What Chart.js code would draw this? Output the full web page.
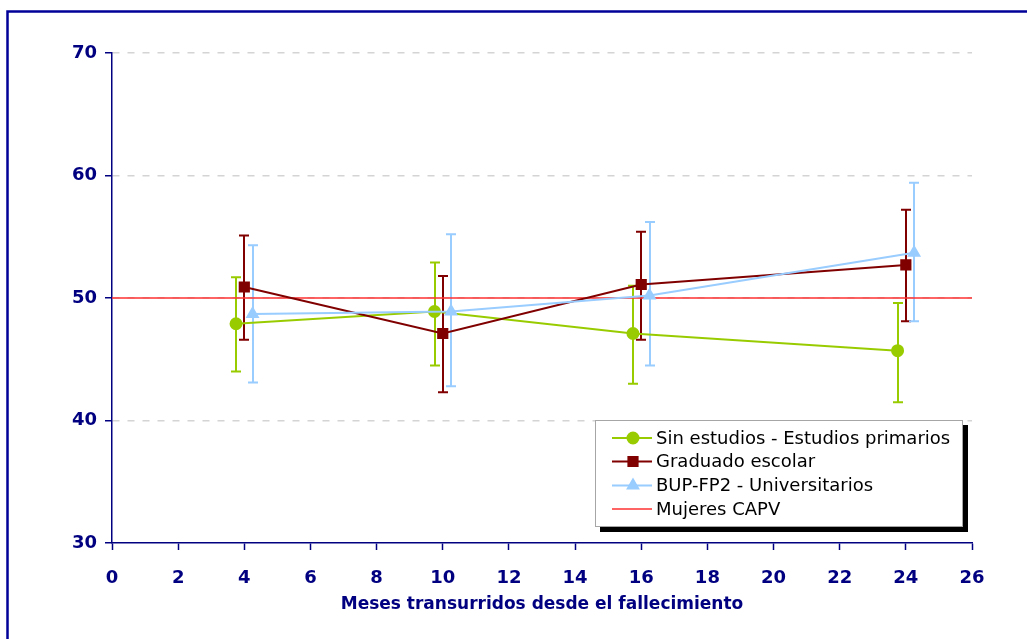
<!DOCTYPE html>
<html>
<head>
<meta charset="utf-8">
<script src="https://cdn.jsdelivr.net/npm/chart.js@4/dist/chart.umd.min.js"></script>
<style>
  html, body { margin: 0; padding: 0; background: #ffffff; }
  #wrap { width: 1027px; height: 639px; position: relative; }
</style>
</head>
<body>
<div id="wrap"><canvas id="chart" width="1027" height="639"></canvas></div>
<script>
// Months elapsed since the death
const months = [4, 10, 16, 24];

// Sin estudios - Estudios primarios
const sinEstudios     = [47.9, 48.9, 47.1, 45.7];
const sinEstudiosLow  = [44.0, 44.5, 43.0, 41.5];
const sinEstudiosHigh = [51.7, 52.9, 51.0, 49.6];

// Graduado escolar
const graduado     = [50.9, 47.1, 51.1, 52.7];
const graduadoLow  = [46.6, 42.3, 46.6, 48.1];
const graduadoHigh = [55.1, 51.8, 55.4, 57.2];

// BUP-FP2 - Universitarios
const bup     = [48.7, 48.9, 50.2, 53.7];
const bupLow  = [43.1, 42.8, 44.5, 48.1];
const bupHigh = [54.3, 55.2, 56.2, 59.4];

// Mujeres CAPV reference level
const capv = 50;

const xTicks = [0, 2, 4, 6, 8, 10, 12, 14, 16, 18, 20, 22, 24, 26];
const yTicks = [30, 40, 50, 60, 70];

const NAVY = '#000080';
const AXIS_FONT = '"DejaVu Sans", Verdana, sans-serif';

// Series are nudged sideways so their whiskers do not overlap
function points(values, shift) {
  return months.map((m, i) => ({ x: m + shift, y: values[i] }));
}

const series = [
  { label: 'Sin estudios - Estudios primarios', values: sinEstudios, low: sinEstudiosLow, high: sinEstudiosHigh,
    color: '#99cc00', style: 'circle', radius: 5.5, shift: -0.25 },
  { label: 'Graduado escolar', values: graduado, low: graduadoLow, high: graduadoHigh,
    color: '#800000', style: 'rect', radius: 6.5, shift: 0 },
  { label: 'BUP-FP2 - Universitarios', values: bup, low: bupLow, high: bupHigh,
    color: '#99ccff', style: 'triangle', radius: 6, shift: 0.25 }
];

const datasets = series.map((s, k) => ({
  label: s.label,
  data: points(s.values, s.shift),
  low: points(s.low, s.shift),
  high: points(s.high, s.shift),
  borderColor: s.color,
  backgroundColor: s.color,
  pointBackgroundColor: s.color,
  pointBorderColor: s.color,
  pointStyle: s.style,
  pointRadius: s.radius,
  pointHoverRadius: s.radius,
  borderWidth: 2,
  tension: 0,
  order: 3 - k
}));

datasets.push({
  label: 'Mujeres CAPV',
  data: [{ x: xTicks[0], y: capv }, { x: xTicks[xTicks.length - 1], y: capv }],
  borderColor: '#ff3030',
  backgroundColor: '#ff3030',
  borderWidth: 1.3,
  pointRadius: 0,
  pointStyle: false,
  order: 10
});

// Outer frame of the chart object
const framePlugin = {
  id: 'frame',
  beforeDraw(chart) {
    const ctx = chart.ctx;
    ctx.save();
    ctx.strokeStyle = '#000099';
    ctx.lineWidth = 2.5;
    ctx.strokeRect(7.5, 11.5, 1100, 700);
    ctx.restore();
  }
};

// Whiskers drawn from the low/high arrays through the chart scales
const errorBarPlugin = {
  id: 'errorBars',
  beforeDatasetsDraw(chart) {
    const ctx = chart.ctx;
    const xs = chart.scales.x, ys = chart.scales.y;
    ctx.save();
    chart.data.datasets.forEach((ds) => {
      if (!ds.low) return;
      ctx.strokeStyle = ds.borderColor;
      ctx.lineWidth = 2;
      ds.low.forEach((lo, i) => {
        const hi = ds.high[i];
        const px = Math.round(xs.getPixelForValue(lo.x));
        const pLo = ys.getPixelForValue(lo.y);
        const pHi = ys.getPixelForValue(hi.y);
        ctx.beginPath();
        ctx.moveTo(px, pLo); ctx.lineTo(px, pHi);
        ctx.moveTo(px - 5, pLo); ctx.lineTo(px + 5, pLo);
        ctx.moveTo(px - 5, pHi); ctx.lineTo(px + 5, pHi);
        ctx.stroke();
      });
    });
    ctx.restore();
  }
};

// Boxed legend with a drop shadow, placed inside the plot area
const boxLegendPlugin = {
  id: 'boxLegend',
  afterDraw(chart) {
    const ctx = chart.ctx;
    const bx = 595, by = 420, bw = 368, bh = 107;
    ctx.save();
    ctx.fillStyle = '#000000';
    ctx.fillRect(bx + 5, by + 5, bw, bh);
    ctx.fillStyle = '#ffffff';
    ctx.fillRect(bx, by, bw, bh);
    ctx.strokeStyle = '#a6a6a6';
    ctx.lineWidth = 1;
    ctx.strokeRect(bx + 0.5, by + 0.5, bw - 1, bh - 1);

    ctx.font = '18px "DejaVu Sans", Verdana, sans-serif';
    ctx.textBaseline = 'middle';
    const rows = [438, 461.5, 485.5, 509];
    chart.data.datasets.forEach((ds, i) => {
      const y = rows[i];
      ctx.strokeStyle = ds.borderColor;
      ctx.lineWidth = ds.borderWidth;
      ctx.beginPath();
      ctx.moveTo(612, y); ctx.lineTo(652, y);
      ctx.stroke();
      if (ds.pointStyle) {
        ctx.fillStyle = ds.backgroundColor;
        Chart.helpers.drawPoint(ctx, {
          pointStyle: ds.pointStyle,
          radius: ds.pointRadius,
          borderWidth: 1,
          rotation: 0
        }, 633, y);
        ctx.fill();
      }
      ctx.fillStyle = '#000000';
      ctx.fillText(ds.label, 656, y + 1);
    });
    ctx.restore();
  }
};

new Chart(document.getElementById('chart'), {
  type: 'line',
  data: { datasets },
  options: {
    responsive: false,
    animation: false,
    layout: { padding: { left: 0, right: 55, top: 53, bottom: 0 } },
    plugins: {
      legend: { display: false },
      tooltip: { enabled: false }
    },
    scales: {
      x: {
        type: 'linear',
        min: 0, max: 26,
        afterFit(scale) { scale.height = 96; },
        afterBuildTicks(scale) { scale.ticks = xTicks.map(v => ({ value: v })); },
        border: { display: true, color: NAVY, width: 1.5 },
        grid: { drawOnChartArea: false, drawTicks: true, tickLength: 7, tickColor: NAVY, tickWidth: 1.5 },
        ticks: { color: NAVY, padding: 18, maxRotation: 0,
                 font: { family: AXIS_FONT, size: 18, weight: 'bold' } },
        title: { display: true, text: 'Meses transurridos desde el fallecimiento', color: NAVY,
                 padding: { top: 2, bottom: 24 },
                 font: { family: AXIS_FONT, size: 17, weight: 'bold' } }
      },
      y: {
        type: 'linear',
        min: 30, max: 70,
        afterFit(scale) { scale.width = 112; },
        afterBuildTicks(scale) { scale.ticks = yTicks.map(v => ({ value: v })); },
        border: { display: true, color: NAVY, width: 1.5, dash: [7, 8] },
        grid: {
          color: (c) => (c.tick && c.tick.value === 30 ? 'rgba(0,0,0,0)' : '#d4d4d4'),
          lineWidth: 1.5,
          drawTicks: true, tickLength: 7, tickColor: NAVY, tickWidth: 1.5, tickBorderDash: []
        },
        ticks: { color: NAVY, padding: 8,
                 font: { family: AXIS_FONT, size: 18, weight: 'bold' } }
      }
    }
  },
  plugins: [framePlugin, errorBarPlugin, boxLegendPlugin]
});
</script>
</body>
</html>
